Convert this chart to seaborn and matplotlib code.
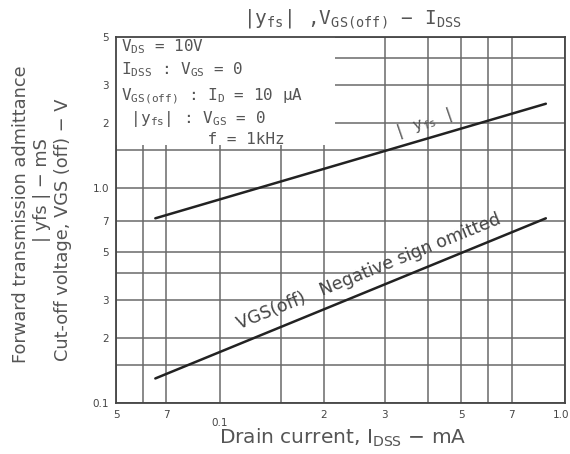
import matplotlib
matplotlib.use("Agg")
import matplotlib.pyplot as plt
import matplotlib.transforms as mtrans
import seaborn as sns
import pandas as pd
from matplotlib.patches import Rectangle

# ---- data ----
idss = [0.065, 0.88]            # mA
yfs = [0.72, 2.45]              # mS
vgs_off = [0.13, 0.72]          # V

x_major = [0.05, 0.07, 0.1, 0.2, 0.3, 0.5, 0.7, 1.0]
x_major_labels = ["5", "7", "\n0.1", "2", "3", "5", "7", "1.0"]
x_minor = [0.06, 0.15, 0.4, 0.6]
y_major = [0.1, 0.2, 0.3, 0.5, 0.7, 1.0, 2, 3, 5]
y_major_labels = ["0.1", "2", "3", "5", "7", "1.0", "2", "3", "5"]
y_minor = [0.15, 0.4, 1.5, 4]

title = r"|y$_{\mathtt{fs}}$| ,V$_{\mathtt{GS(off)}}$ − I$_{\mathtt{DSS}}$"
xlabel = r"Drain current, I$_{\rm DSS}$ − mA"
ylabel_lines = ["Forward transmission admittance",
                "| yfs | − mS",
                "Cut-off voltage, VGS (off) − V"]
cond_lines = [r"V$_{\mathtt{DS}}$ = 10V",
              r"I$_{\mathtt{DSS}}$ : V$_{\mathtt{GS}}$ = 0",
              r"V$_{\mathtt{GS(off)}}$ : I$_{\mathtt{D}}$ = 10 μA",
              r" |y$_{\mathtt{fs}}$| : V$_{\mathtt{GS}}$ = 0",
              r"         f = 1kHz"]
yfs_label = r"| y$_{\mathtt{fs}}$ |"
vgs_label = "VGS(off)   Negative sign omitted"

sns.set_theme(style="white")
plt.rcParams['font.family'] = ['DejaVu Sans']

txt = "#555555"
grid_c = "#6a6a6a"

W, H = 570, 454
fig = plt.figure(figsize=(W/100, H/100), dpi=100)
L, R, T, B = 116, 565, 37, 403
ax = fig.add_axes([L/W, 1-B/H, (R-L)/W, (B-T)/H])

def axc(px, py):
    return (px-L)/(R-L), (B-py)/(B-T)

df1 = pd.DataFrame({"IDSS": idss, "val": yfs})
df2 = pd.DataFrame({"IDSS": idss, "val": vgs_off})
sns.lineplot(data=df1, x="IDSS", y="val", ax=ax, color="#222222", lw=1.8, zorder=5)
sns.lineplot(data=df2, x="IDSS", y="val", ax=ax, color="#222222", lw=1.8, zorder=5)
ax.set_xlabel("")
ax.set_ylabel("")

ax.set_xscale("log")
ax.set_yscale("log")
ax.set_xlim(0.05, 1.0)
ax.set_ylim(0.1, 5)

ax.xaxis.set_major_locator(matplotlib.ticker.FixedLocator(x_major))
ax.xaxis.set_minor_locator(matplotlib.ticker.FixedLocator(x_minor))
ax.yaxis.set_major_locator(matplotlib.ticker.FixedLocator(y_major))
ax.yaxis.set_minor_locator(matplotlib.ticker.FixedLocator(y_minor))
ax.set_xticklabels(x_major_labels)
ax.set_yticklabels(y_major_labels)
ax.xaxis.set_minor_formatter(matplotlib.ticker.NullFormatter())
ax.yaxis.set_minor_formatter(matplotlib.ticker.NullFormatter())

ax.tick_params(which="major", direction="out", length=3, width=1, color=grid_c,
               labelsize=7.5, labelcolor="#444444", pad=2)
ax.tick_params(which="minor", length=0)
ax.grid(True, which="both", color=grid_c, lw=1.1, zorder=1)

xl = ax.get_xticklabels()
xl[2].set_linespacing(0.75)
xl[-1].set_horizontalalignment("right")
xl[-1].set_transform(xl[-1].get_transform() + mtrans.ScaledTranslation(4/100, 0, fig.dpi_scale_trans))

for s in ax.spines.values():
    s.set_color("#444444")
    s.set_linewidth(1.3)

# white area behind the conditions text
x0, y0 = axc(L, 145)
x1, _ = axc(335, T)
ax.add_patch(Rectangle((0.0, y0), x1, 1-y0, transform=ax.transAxes,
                       facecolor="white", edgecolor="none", zorder=2))

fig.text(343/W, 1-438/H, xlabel, fontsize=14.5, color=txt, ha="center", va="center")
for t, (px, py) in zip(ylabel_lines, [(21, 214), (42, 190), (63, 230)]):
    fig.text(px/W, 1-py/H, t, fontsize=12.8, color=txt, ha="center", va="center",
             rotation=90)
fig.text(352/W, 1-19/H, title, fontsize=14, color=txt, family="DejaVu Sans Mono",
         ha="center", va="center")

ys = [47, 70, 96, 119, 140]
for t, yy in zip(cond_lines, ys):
    ax.text(*axc(121, yy), t, transform=ax.transAxes, fontsize=11.5,
            color=txt, family="DejaVu Sans Mono", va="center", ha="left", zorder=6)

ax.text(*axc(423, 124), yfs_label, transform=ax.transAxes, fontsize=11.5,
        color=txt, family="DejaVu Sans Mono", rotation=19, ha="center", va="center", zorder=6)
ax.text(*axc(369, 272), vgs_label,
        transform=ax.transAxes, fontsize=12.5, color="#444444", rotation=22,
        ha="center", va="center", zorder=6)

ax.set_facecolor("white")
fig.savefig("out.png", dpi=100, facecolor="white")
